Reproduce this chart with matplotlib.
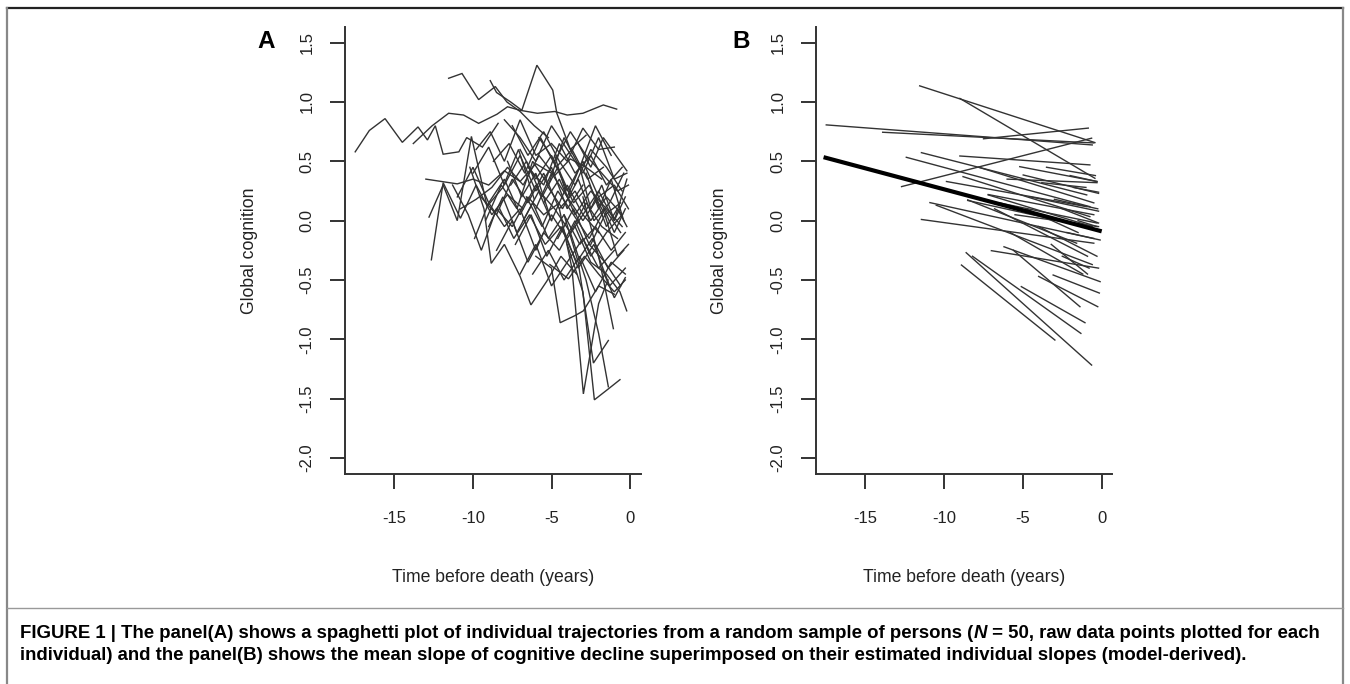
# -*- coding: utf-8 -*-
"""Spaghetti plot (A) and individual model slopes (B), figure 1 reproduction."""

import numpy as np
import matplotlib

matplotlib.use("Agg")
import matplotlib.pyplot as plt
from matplotlib.lines import Line2D
from matplotlib import font_manager

# %% Data

# Panel A: raw trajectories, one row per person (time before death, score)
a_time = [
    [-17.5, -16.6, -15.6, -14.5, -13.5, -12.9, -12.4, -11.9, -10.9, -10.4, -9.4, -8.4],
    [-13.8, -12.6, -11.55, -10.6, -9.64, -8.47, -7.8, -7.0, -5.9, -4.8, -4.0, -3.0, -1.7, -0.85],
    [-11.55, -10.7, -9.64, -8.58, -7.84, -7.0, -6.1, -5.2],
    [-8.9, -8.5, -7.6, -6.89, -5.93, -4.92, -4.66, -3.8, -2.8],
    [-13.0, -12.0, -11.0, -10.0, -9.0, -8.0, -7.0, -6.0, -5.0],
    [-12.65, -11.9, -10.8, -9.8, -8.8, -7.8, -6.8],
    [-12.8, -11.9, -11.0, -10.1, -9.1, -8.1, -7.1, -6.1],
    [-11.3, -10.3, -9.47, -8.5, -7.5, -6.5, -5.5, -4.5],
    [-10.2, -9.3, -8.84, -8.0, -7.0, -6.31, -5.3, -4.4, -3.4],
    [-10.8, -9.8, -8.8, -7.8, -6.8, -5.8, -4.8, -3.8, -2.8, -1.8],
    [-9.8, -8.9, -8.0, -7.0, -6.0, -5.0, -4.0, -3.0, -2.0, -1.0],
    [-9.5, -8.5, -7.5, -6.5, -5.5, -4.5, -3.5, -2.5, -1.5, -0.5],
    [-9.0, -8.1, -7.2, -6.2, -5.2, -4.2, -3.2, -2.2, -1.2, -0.3],
    [-8.7, -7.7, -6.7, -5.7, -4.7, -3.7, -2.7, -1.7],
    [-8.3, -7.4, -6.4, -5.4, -4.4, -3.4, -2.4, -1.4, -0.4],
    [-8.0, -7.0, -6.0, -5.0, -4.0, -3.0, -2.0, -1.0, -0.2],
    [-7.6, -6.6, -5.6, -4.6, -3.6, -2.6, -1.6, -0.6],
    [-7.3, -6.3, -5.3, -4.3, -3.3, -2.3, -1.3, -0.3],
    [-7.0, -6.0, -5.0, -4.0, -3.0, -2.0, -1.0, -0.1],
    [-6.8, -5.8, -4.8, -3.8, -2.8, -1.8, -0.8],
    [-6.5, -5.5, -4.5, -3.5, -2.5, -1.5, -0.5],
    [-6.2, -5.2, -4.2, -3.2, -2.2, -1.2, -0.3],
    [-6.0, -5.0, -4.45, -3.5, -2.97, -2.0, -1.0],
    [-5.8, -4.8, -3.8, -2.8, -1.8, -0.8, -0.1],
    [-5.5, -4.5, -3.5, -2.5, -1.5, -0.5],
    [-5.1, -3.92, -2.9, -2.0, -1.0, -0.3],
    [-4.8, -4.0, -3.2, -2.5, -1.8, -1.0, -0.3],
    [-4.5, -3.7, -2.97, -2.0, -1.4],
    [-4.0, -3.0, -2.27, -1.4, -0.64],
    [-4.2, -3.3, -2.33, -1.38],
    [-3.8, -2.8, -2.0, -1.38],
    [-3.0, -2.0, -1.06],
    [-3.5, -2.5, -1.5, -0.64, -0.21],
    [-2.8, -2.0, -1.2, -0.4],
    [-2.5, -1.6, -0.8, -0.1],
    [-10.0, -9.0, -8.0, -7.0, -6.0, -5.0, -4.0, -3.0],
    [-9.2, -8.2, -7.2, -6.2, -5.2, -4.2, -3.2, -2.2, -1.2],
    [-8.5, -7.5, -6.5, -5.5, -4.5, -3.5, -2.5, -1.5, -0.5],
    [-7.8, -6.9, -6.0, -5.0, -4.0, -3.0, -2.0, -1.0, -0.2],
    [-7.5, -6.5, -5.5, -4.5, -3.5, -2.5, -1.5, -0.5],
    [-6.6, -5.6, -4.6, -3.6, -2.6, -1.6, -0.6],
    [-5.3, -4.3, -3.3, -2.3, -1.3, -0.4],
    [-4.6, -3.6, -2.6, -1.6, -0.6],
    [-3.3, -2.5, -1.7, -0.9, -0.2],
    [-2.2, -1.5, -0.8, -0.2],
    [-11.0, -10.0, -9.0, -8.0, -7.0, -6.0, -5.0],
    [-9.9, -9.0, -8.0, -7.0, -6.0, -5.0, -4.0, -3.0, -2.0],
    [-7.0, -6.0, -5.0, -4.0, -3.0, -2.0, -1.0],
    [-6.0, -5.0, -4.0, -3.0, -2.0, -1.0, -0.3],
    [-1.8, -1.0, -0.3],
]
a_score = [
    [0.58, 0.76, 0.86, 0.66, 0.79, 0.68, 0.80, 0.56, 0.58, 0.70, 0.62, 0.82],
    [0.65, 0.80, 0.905, 0.89, 0.82, 0.897, 0.96, 0.93, 0.905, 0.92, 0.89, 0.905, 0.975, 0.94],
    [1.20, 1.24, 1.02, 1.13, 1.00, 0.92, 0.80, 0.70],
    [1.18, 1.08, 1.00, 0.93, 1.31, 1.10, 0.905, 0.60, 0.72],
    [0.35, 0.33, 0.31, 0.35, 0.30, 0.42, 0.33, 0.48, 0.40],
    [-0.33, 0.32, 0.02, 0.30, 0.05, 0.22, 0.10],
    [0.03, 0.30, 0.00, 0.71, 0.12, 0.28, 0.60, 0.18],
    [0.30, 0.05, -0.25, 0.10, -0.05, 0.20, 0.05, 0.15],
    [0.45, 0.10, -0.36, -0.20, -0.47, -0.71, -0.51, -0.30, -0.45],
    [0.10, 0.18, 0.28, 0.45, 0.30, 0.55, 0.38, 0.52, 0.45, 0.35],
    [0.60, 0.75, 0.50, 0.85, 0.55, 0.65, 0.50, 0.78, 0.60, 0.62],
    [0.20, 0.05, 0.35, 0.15, 0.40, 0.10, 0.25, 0.00, 0.20, 0.05],
    [-0.05, 0.20, -0.10, 0.15, -0.15, 0.05, -0.20, -0.05, -0.25, -0.10],
    [0.50, 0.65, 0.40, 0.70, 0.45, 0.60, 0.35, 0.45],
    [0.10, -0.15, 0.05, -0.20, -0.05, -0.35, -0.15, -0.40, -0.25],
    [0.85, 0.70, 0.50, 0.80, 0.60, 0.40, 0.70, 0.35, 0.40],
    [0.30, 0.50, 0.20, 0.45, 0.15, 0.30, 0.05, 0.15],
    [-0.20, 0.05, -0.30, -0.05, -0.40, -0.20, -0.55, -0.40],
    [0.60, 0.35, 0.55, 0.25, 0.50, 0.20, 0.30, 0.10],
    [0.00, 0.25, 0.10, -0.10, 0.15, -0.05, -0.15],
    [0.45, 0.30, 0.65, 0.40, 0.55, 0.30, 0.45],
    [-0.45, -0.25, -0.50, -0.30, -0.60, -0.35, -0.45],
    [-0.30, -0.40, -0.86, -0.80, -0.76, -0.55, -0.62],
    [0.70, 0.50, 0.75, 0.55, 0.40, 0.25, 0.30],
    [0.15, 0.35, 0.05, 0.25, 0.10, -0.05],
    [-0.37, -0.49, -0.30, -0.45, -0.60, -0.50],
    [0.55, 0.20, 0.45, 0.10, 0.30, 0.00, 0.20],
    [0.10, -0.40, -1.46, -0.70, -0.50],
    [-0.20, -0.60, -1.51, -1.42, -1.34],
    [0.05, -0.35, -1.20, -1.01],
    [-0.10, -0.50, -0.95, -1.40],
    [0.20, -0.30, -0.91],
    [-0.05, -0.35, -0.45, -0.60, -0.76],
    [0.40, 0.10, 0.35, 0.00],
    [-0.20, 0.05, -0.30, -0.20],
    [0.40, 0.62, 0.30, 0.55, 0.25, 0.45, 0.10, 0.30],
    [0.00, 0.30, 0.10, 0.50, 0.30, 0.70, 0.45, 0.80, 0.55],
    [-0.25, 0.00, -0.35, -0.10, -0.25, 0.00, -0.30, -0.10, 0.05],
    [0.50, 0.20, 0.40, 0.00, 0.30, 0.05, 0.25, 0.00, 0.35],
    [0.80, 0.55, 0.75, 0.50, 0.30, 0.60, 0.45, 0.25],
    [0.20, -0.05, 0.25, 0.05, -0.15, 0.10, -0.10],
    [0.30, 0.10, 0.35, 0.00, 0.15, 0.40],
    [-0.15, 0.10, -0.20, -0.35, -0.55],
    [0.65, 0.45, 0.70, 0.55, 0.42],
    [0.20, -0.05, 0.10, -0.05],
    [0.20, 0.45, 0.15, 0.35, 0.05, 0.30, 0.00],
    [-0.15, 0.15, -0.05, 0.10, -0.25, 0.05, -0.15, 0.05, -0.10],
    [-0.45, -0.20, -0.55, -0.35, -0.15, -0.40, -0.25],
    [0.10, 0.40, 0.20, 0.00, 0.20, -0.10, 0.10],
    [-0.40, -0.65, -0.48],
]

# Panel B: model-derived individual slopes (start/end of each segment)
b_t0 = [-17.48, -13.9, -11.55, -9.0, -7.5, -12.7, -9.0, -12.4, -11.44, -5.2,
        -4.98, -8.8, -9.85, -10.9, -10.5, -11.44, -7.0, -8.9, -8.6, -8.2,
        -5.1, -5.6, -4.0, -3.08, -6.2, -3.5, -6.0, -7.2, -6.5, -4.5,
        -3.0, -8.5, -5.5, -2.5, -6.8, -4.0, -2.5, -5.8, -1.8, -3.8,
        -2.2, -7.8, -1.5, -3.2, -4.8, -8.5, -7.2, -2.0]
b_y0 = [0.807, 0.745, 1.136, 1.03, 0.69, 0.287, 0.545, 0.534, 0.573, 0.455,
        0.385, 0.371, 0.33, 0.152, 0.13, 0.01, -0.253, -0.374, -0.27, -0.30,
        -0.556, -0.25, -0.47, -0.458, -0.22, 0.45, 0.35, 0.22, 0.15, 0.20,
        0.18, 0.17, 0.05, 0.10, 0.10, -0.05, -0.30, -0.10, 0.28, 0.32,
        -0.10, 0.45, 0.0, -0.20, 0.10, 0.175, 0.217, 0.38]
b_t1 = [-0.6, -0.5, -0.43, -0.43, -0.85, -0.64, -0.75, -0.75, -0.95, -0.3,
        -0.2, -0.75, -0.95, -0.1, -0.6, -0.5, -0.2, -2.97, -0.64, -1.32,
        -1.06, -1.38, -0.25, -0.15, -0.1, -0.4, -0.3, -0.5, -0.3, -0.2,
        -0.25, -1.0, -0.2, -0.2, -0.9, -0.3, -0.8, -1.2, -0.2, -1.0,
        -0.5, -0.5, -0.3, -0.9, -1.5, -1.59, -0.6, -0.3]
b_y1 = [0.638, 0.655, 0.658, 0.357, 0.78, 0.695, 0.47, 0.118, 0.217, 0.33,
        0.23, 0.034, 0.118, -0.163, -0.37, -0.19, -0.40, -1.006, -1.217, -0.95,
        -0.86, -0.725, -0.725, -0.61, -0.514, 0.38, 0.32, 0.05, -0.02, 0.08,
        0.10, -0.05, -0.05, -0.02, -0.30, -0.30, -0.40, -0.45, 0.24, 0.28,
        -0.15, 0.15, -0.05, -0.45, -0.10, -0.19, -0.05, 0.33]

# Mean slope (fixed effect)
mean_t = [-17.65, 0.0]
mean_y = [0.535, -0.09]

x_ticks = [-15, -10, -5, 0]
y_ticks = [-2.0, -1.5, -1.0, -0.5, 0.0, 0.5, 1.0, 1.5]

caption_1 = [
    ("FIGURE 1 | The panel(A) shows a spaghetti plot of individual trajectories "
     "from a random sample of persons (", "normal"),
    ("N", "italic"),
    (" = 50, raw data points plotted for each", "normal"),
]
caption_2 = ("individual) and the panel(B) shows the mean slope of cognitive decline "
             "superimposed on their estimated individual slopes (model-derived).")

# %% Style

W, H = 1350, 684
axis_col = "#333333"
line_col = "#333333"
txt_col = "#222222"
plt.rcParams["font.family"] = ["Liberation Sans", "DejaVu Sans"]

avail = {f.name for f in font_manager.fontManager.ttflist}
cap_family = ["Liberation Sans Narrow"] if "Liberation Sans Narrow" in avail else ["Liberation Sans"]


def fig_rect(left, top, right, bottom):
    """Pixel box -> figure fraction rect."""
    return [left / W, 1 - bottom / H, (right - left) / W, (bottom - top) / H]


def style_axes(ax):
    ax.set_xlim(-18.15, 0.68)
    ax.set_ylim(-2.135, 1.632)
    for side in ["top", "right"]:
        ax.spines[side].set_visible(False)
    for side in ["left", "bottom"]:
        ax.spines[side].set_linewidth(1.4)
        ax.spines[side].set_color(axis_col)
    ax.set_xticks(x_ticks)
    ax.set_xticklabels(["%d" % v for v in x_ticks])
    ax.set_yticks(y_ticks)
    ax.set_yticklabels(["%.1f" % v for v in y_ticks], rotation=90, va="center")
    ax.tick_params(axis="both", length=10.8, width=1.4, color=axis_col,
                   labelsize=12, labelcolor=txt_col)
    ax.tick_params(axis="x", pad=16)
    ax.tick_params(axis="y", pad=11)
    ax.set_xlabel("Time before death (years)", fontsize=12.7, color=txt_col)
    ax.set_ylabel("Global cognition", fontsize=12.7, color=txt_col)
    ax.xaxis.set_label_coords(0.5, -(577 - 474) / 447, transform=ax.transAxes)
    ax.xaxis.label.set_va("center")
    ax.yaxis.set_label_coords(-(345 - 249) / 295.7, 0.5, transform=ax.transAxes)
    ax.yaxis.label.set_va("center")


# %% Figure

fig = plt.figure(figsize=(W / 100, H / 100), dpi=100)

# Panel A
ax = fig.add_axes(fig_rect(345, 27, 640.7, 474))
for t, s in zip(a_time, a_score):
    ax.plot(t, s, color=line_col, linewidth=1.0, solid_joinstyle="miter")
style_axes(ax)
fig.text(266.5 / W, 1 - 41 / H, "A", fontsize=17.5, fontweight="bold",
         ha="center", va="center", color="black")

# Panel B
ax = fig.add_axes(fig_rect(815.7, 27, 1112.4, 474))
for i in range(len(b_t0)):
    ax.plot([b_t0[i], b_t1[i]], [b_y0[i], b_y1[i]], color=line_col, linewidth=1.0)
ax.plot(mean_t, mean_y, color="black", linewidth=3.0, solid_capstyle="butt")
style_axes(ax)
ax.yaxis.set_label_coords(-(815.7 - 720) / 296.7, 0.5, transform=ax.transAxes)
fig.text(741.5 / W, 1 - 41 / H, "B", fontsize=17.5, fontweight="bold",
         ha="center", va="center", color="black")

# Frame and caption separator
frame = dict(transform=fig.transFigure, linewidth=1.6)
fig.add_artist(Line2D([7 / W, 1343 / W], [1 - 8 / H, 1 - 8 / H], color="#222222", **frame))
fig.add_artist(Line2D([7 / W, 7 / W], [1 - 8 / H, 0], color="#888888", **frame))
fig.add_artist(Line2D([1343 / W, 1343 / W], [1 - 8 / H, 0], color="#888888", **frame))
fig.add_artist(Line2D([7 / W, 1343 / W], [1 - 608 / H, 1 - 608 / H], color="#999999",
                      transform=fig.transFigure, linewidth=1.0))

# Caption: fit the first line to its width in the reference
renderer = fig.canvas.get_renderer()
probe = fig.text(0, 0, "".join(p[0] for p in caption_1), fontsize=10,
                 fontweight="bold", family=cap_family)
probe_w = probe.get_window_extent(renderer).width
probe.remove()
cap_size = 10 * (1328 - 20) / probe_w

x = 20.0
for txt, style in caption_1:
    t = fig.text(x / W, 1 - 638 / H, txt, fontsize=cap_size, fontweight="bold",
                 style=style, family=cap_family, va="baseline", color="black")
    x = t.get_window_extent(renderer).x1
fig.text(20 / W, 1 - 660 / H, caption_2, fontsize=cap_size, fontweight="bold",
         family=cap_family, va="baseline", color="black")

fig.savefig("out.png", dpi=100, facecolor="white")
